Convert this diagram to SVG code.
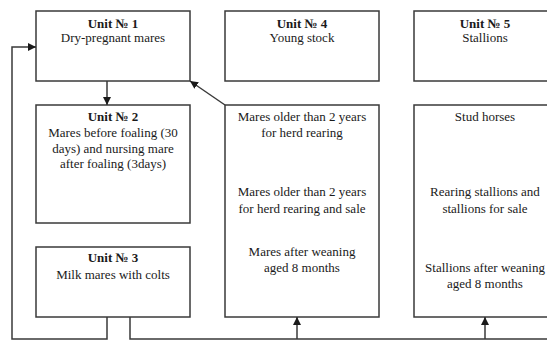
<svg xmlns="http://www.w3.org/2000/svg" width="547" height="340" viewBox="0 0 547 340">
<style>
.box{fill:#fff;stroke:#3a3a3a;stroke-width:1.5}
.t{font-family:"Liberation Serif","Times New Roman",serif;font-size:13px;fill:#1a1a1a;text-anchor:middle}
.b{font-weight:bold}
.c{fill:none;stroke:#3a3a3a;stroke-width:1.5}
</style>
<defs>
<marker id="ah" viewBox="0 0 10 10" refX="10" refY="5" markerWidth="8" markerHeight="8" markerUnits="userSpaceOnUse" orient="auto">
<path d="M0,0 L10,5 L0,10 z" fill="#1a1a1a"/>
</marker>
</defs>
<rect width="547" height="340" fill="#fff"/>
<g id="unit1">
<rect class="box" x="36" y="11" width="154" height="70"/>
<text class="t b" x="113" y="28">Unit № 1</text>
<text class="t" x="113" y="42">Dry-pregnant mares</text>
</g>
<g id="unit2">
<rect class="box" x="36" y="105" width="154" height="118"/>
<text class="t b" x="113" y="121">Unit № 2</text>
<text class="t" x="113" y="137">Mares before foaling (30</text>
<text class="t" x="113" y="153">days) and nursing mare</text>
<text class="t" x="113" y="168">after foaling (3days)</text>
</g>
<g id="unit3">
<rect class="box" x="36" y="247" width="154" height="70"/>
<text class="t b" x="113" y="262">Unit № 3</text>
<text class="t" x="113" y="279">Milk mares with colts</text>
</g>
<g id="unit4">
<rect class="box" x="225" y="11" width="154" height="70"/>
<text class="t b" x="302" y="28">Unit № 4</text>
<text class="t" x="302" y="42">Young stock</text>
</g>
<g id="unit4-groups">
<rect class="box" x="225" y="105" width="154" height="212"/>
<text class="t" x="302" y="121">Mares older than 2 years</text>
<text class="t" x="302" y="137">for herd rearing</text>
<text class="t" x="302" y="196">Mares older than 2 years</text>
<text class="t" x="302" y="213">for herd rearing and sale</text>
<text class="t" x="302" y="256">Mares after weaning</text>
<text class="t" x="302" y="272">aged 8 months</text>
</g>
<g id="unit5">
<rect class="box" x="414" y="11" width="145" height="70"/>
<text class="t b" x="485" y="28">Unit № 5</text>
<text class="t" x="485" y="42">Stallions</text>
</g>
<g id="unit5-groups">
<rect class="box" x="414" y="105" width="145" height="212"/>
<text class="t" x="485" y="121">Stud horses</text>
<text class="t" x="485" y="196">Rearing stallions and</text>
<text class="t" x="485" y="213">stallions for sale</text>
<text class="t" x="485" y="272">Stallions after weaning</text>
<text class="t" x="485" y="288">aged 8 months</text>
</g>
<g id="connectors">
<path class="c" d="M107,81 V105" marker-end="url(#ah)"/>
<path class="c" d="M225,105 L190,81" marker-end="url(#ah)"/>
<path class="c" d="M107,317 V339 H12 V47 H36" marker-end="url(#ah)"/>
<path class="c" d="M130,317 V339 H547"/>
<path class="c" d="M297,339 V317" marker-end="url(#ah)"/>
<path class="c" d="M485,339 V317" marker-end="url(#ah)"/>
</g>
</svg>
